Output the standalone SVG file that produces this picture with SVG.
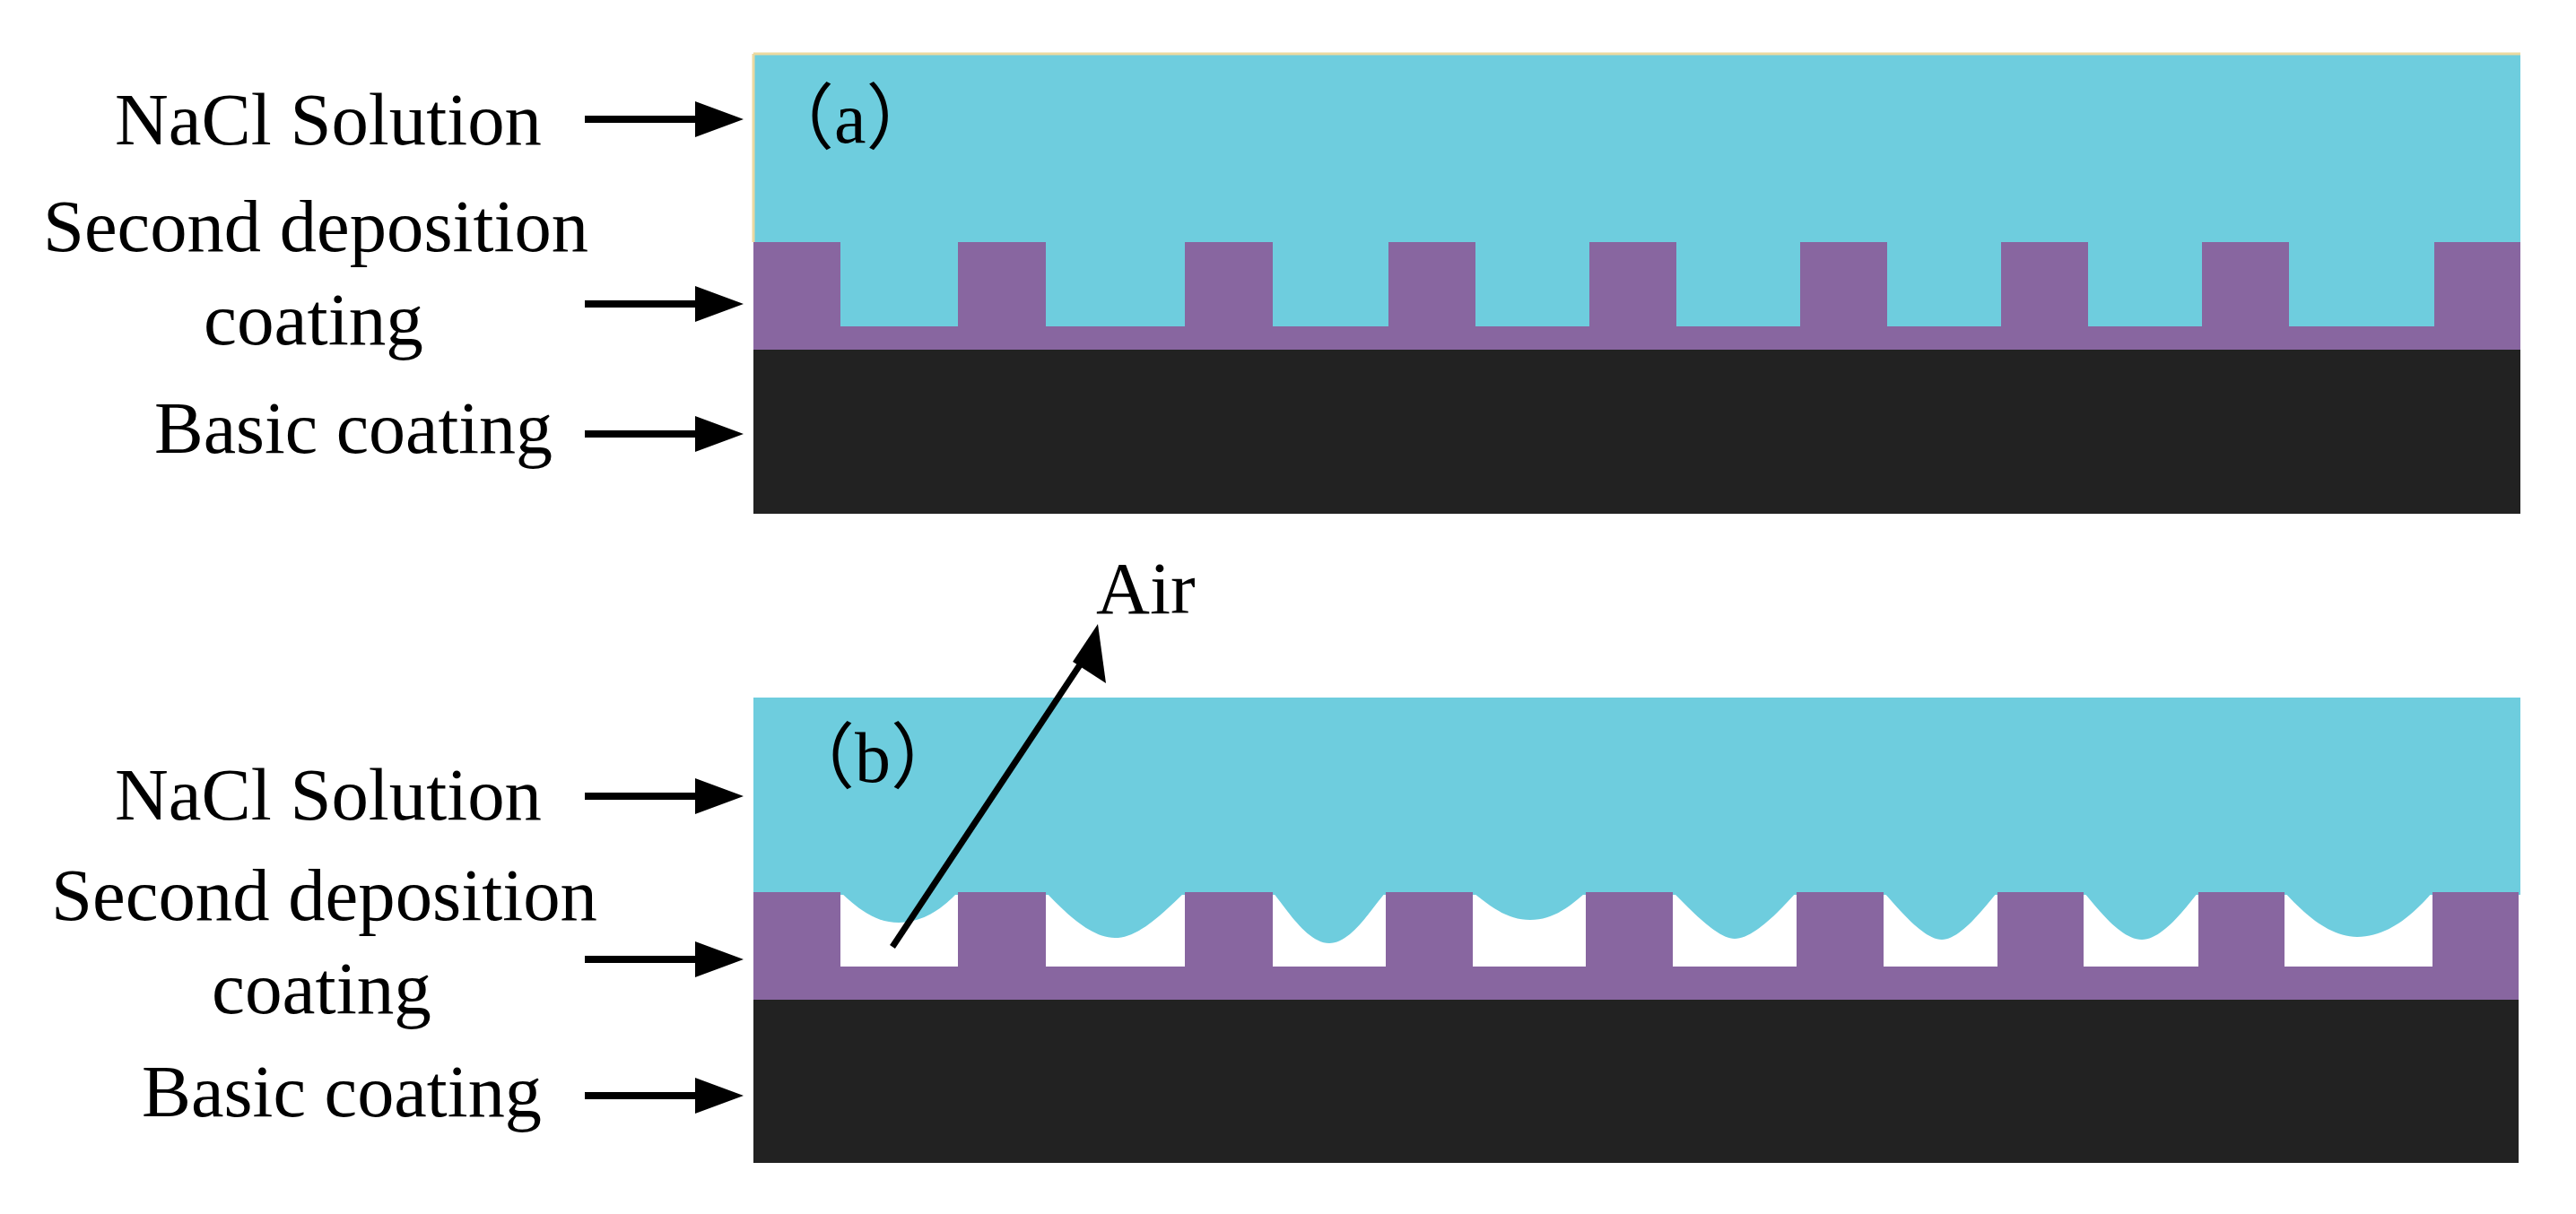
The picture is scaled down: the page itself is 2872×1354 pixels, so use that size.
<svg xmlns="http://www.w3.org/2000/svg" width="2872" height="1354" viewBox="0 0 2872 1354">
<style>
.t{font-family:"Liberation Serif","Times New Roman",serif;font-size:83px;fill:#000}
.p{font-family:"Liberation Serif","Noto Sans CJK SC",serif;font-size:80px;fill:#000}
.sol{fill:#6ecdde}.dep{fill:#8866a0}.base{fill:#222}
</style>
<rect width="2872" height="1354" fill="#fff"/>
<g id="panel-a">
<rect class="sol" x="840" y="60" width="1970" height="312"/>
<path d="M840 60H2810M840 60V270" stroke="#ecd9a0" stroke-width="3" fill="none"/>
<path class="dep" d="M840 270H937V364H1068V270H1166V364H1321V270H1419V364H1548V270H1645V364H1772V270H1869V364H2007V270H2104V364H2231V270H2328V364H2455V270H2552V364H2714V270H2810V390H840Z"/>
<rect class="base" x="840" y="390" width="1970" height="183"/>
<text class="p" x="850" y="159">（a）</text>
</g>
<g id="panel-b">
<rect class="sol" x="840" y="778" width="1970" height="220"/>
<g class="sol">
<path d="M937 995C955 1012 975 1029 1002 1029C1030 1029 1052 1012 1068 995Z"/>
<path d="M1166 995C1185 1015 1215 1046 1243 1046C1271 1046 1300 1015 1321 995Z"/>
<path d="M1419 995C1435 1015 1458 1052 1482 1052C1506 1052 1528 1015 1545 995Z"/>
<path d="M1642 995C1660 1010 1680 1026 1706 1026C1732 1026 1752 1010 1768 995Z"/>
<path d="M1865 995C1885 1015 1915 1047 1934 1047C1955 1047 1985 1015 2003 995Z"/>
<path d="M2100 995C2118 1015 2145 1048 2165 1048C2185 1048 2210 1015 2227 995Z"/>
<path d="M2323 995C2340 1015 2365 1048 2388 1048C2410 1048 2435 1015 2451 995Z"/>
<path d="M2547 995C2565 1015 2595 1045 2628 1045C2665 1045 2695 1015 2712 995Z"/>
</g>
<path class="dep" d="M840 995H937V1078H1068V995H1166V1078H1321V995H1419V1078H1545V995H1642V1078H1768V995H1865V1078H2003V995H2100V1078H2227V995H2323V1078H2451V995H2547V1078H2712V995H2808V1115H840Z"/>
<rect class="base" x="840" y="1115" width="1968" height="182"/>
<text class="p" x="873" y="872">（b）</text>
</g>
<g id="labels">
<text class="t" x="128" y="161" textLength="476" lengthAdjust="spacingAndGlyphs">NaCl Solution</text>
<text class="t" x="48" y="280" textLength="608" lengthAdjust="spacingAndGlyphs">Second deposition</text>
<text class="t" x="227" y="384" textLength="245" lengthAdjust="spacingAndGlyphs">coating</text>
<text class="t" x="172" y="505" textLength="444" lengthAdjust="spacingAndGlyphs">Basic coating</text>
<text class="t" x="128" y="914" textLength="476" lengthAdjust="spacingAndGlyphs">NaCl Solution</text>
<text class="t" x="57" y="1026" textLength="609" lengthAdjust="spacingAndGlyphs">Second deposition</text>
<text class="t" x="236" y="1130" textLength="245" lengthAdjust="spacingAndGlyphs">coating</text>
<text class="t" x="158" y="1245" textLength="446" lengthAdjust="spacingAndGlyphs">Basic coating</text>
<text class="t" x="1222" y="684">Air</text>
</g>
<g id="connectors">
<g fill="#000">
<path d="M652 129H775V113L829 133L775 153V137H652Z"/>
<path d="M652 335H775V319L829 339L775 359V343H652Z"/>
<path d="M652 480H775V464L829 484L775 504V488H652Z"/>
<path d="M652 884H775V868L829 888L775 908V892H652Z"/>
<path d="M652 1066H775V1050L829 1070L775 1090V1074H652Z"/>
<path d="M652 1218H775V1202L829 1222L775 1242V1226H652Z"/>
</g>
<line x1="995" y1="1056" x2="1205" y2="740" stroke="#000" stroke-width="7"/>
<path d="M1224 696L1233 762L1196 738Z" fill="#000"/>
</g>
</svg>
